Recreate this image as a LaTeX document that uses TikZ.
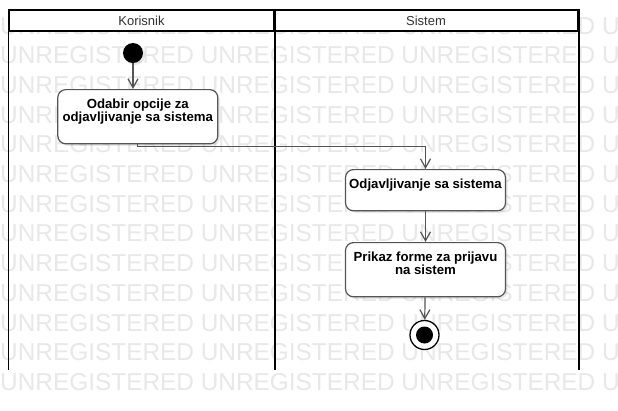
\documentclass[tikz,border=0pt]{standalone}
\usepackage{fontspec}
\usepackage{xcolor}
\usetikzlibrary{positioning,calc}
\usetikzlibrary{arrows.meta,shadows}
\setmainfont{Liberation Sans}
\definecolor{Shade}{RGB}{85, 85, 85}
\definecolor{Mark}{RGB}{232, 232, 232}
\newcommand{\actfont}{\fontsize{13.2pt}{13pt}\selectfont\bfseries}
\newcommand{\headfont}{\fontsize{13pt}{15pt}\selectfont}
\tikzset{
    watermark/.style={anchor=base west, inner sep=0pt, text=Mark,
        font=\fontsize{24.4pt}{24pt}\selectfont},
    lanehead/.style={draw, line width=1.5pt, fill=white, minimum height=21pt,
        text=black!80, font=\headfont},
    laneline/.style={line width=1.5pt},
    action/.style={draw=Shade, line width=1.2pt, fill=white, rounded corners=8pt,
        anchor=north, align=center, font=\actfont, minimum width=160pt,
        inner xsep=0pt, inner ysep=8.7pt, text height=10pt, text depth=13.8pt,
        drop shadow={shadow xshift=2pt, shadow yshift=-2pt, opacity=0.18}},
    initial/.style={circle, fill=black, minimum size=20pt, inner sep=0pt,
        drop shadow={shadow xshift=2pt, shadow yshift=-2pt, opacity=0.18}},
    final/.style={circle, draw, line width=1.3pt, fill=white, minimum size=29pt,
        inner sep=0pt,
        path picture={\fill[black] (path picture bounding box.center) circle (8.5pt);}},
    flow/.style={draw=Shade, line width=1.2pt,
        -{Straight Barb[length=9pt,width=10pt]}}
}

\begin{document}
\begin{tikzpicture}[x=1pt,y=-1pt]
    \path[use as bounding box, clip] (0,0) rectangle (618,410);
    \fill[white] (0,0) rectangle (618,410);
    % watermark
    \foreach \r in {0,...,12}
        \node[watermark] (wm\r) at (0,34+29.7*\r)
            {UNREGISTERED UNREGISTERED UNREGISTERED UNREGISTERED};
    % swimlanes
    \coordinate (bottom) at (0,370);
    \node[lanehead, minimum width=265pt] (korisnik) at (141.5,20.5) {Korisnik};
    \node[lanehead, minimum width=304pt] (sistem) at (426,20.5) {Sistem};
    \draw[laneline] (korisnik.north west) -- (korisnik.north west |- bottom);
    \draw[laneline] (korisnik.north east) -- (korisnik.north east |- bottom);
    \draw[laneline] (sistem.north east) -- (sistem.north east |- bottom);
    % activities
    \node[initial] (start) at (133,53) {};
    \node[action, text height=23pt] (odabir) at (137.8,89)
        {Odabir opcije za\\odjavljivanje sa sistema};
    \node[action] (odjava) at (425.5,169)
        {Odjavljivanje sa sistema};
    \node[action, text height=23pt] (prikaz) at (425.5,242)
        {Prikaz forme za prijavu\\na sistem};
    \node[final] (end) at (424.5,335) {};
    \draw[flow] (start) -- (start |- odabir.north);
    \draw[flow] (odabir.south) -- ++(0,2) -| (odjava.north);
    \draw[flow] (odjava) -- (prikaz);
    \draw[flow] (prikaz) -- (end);
\end{tikzpicture}
\end{document}
